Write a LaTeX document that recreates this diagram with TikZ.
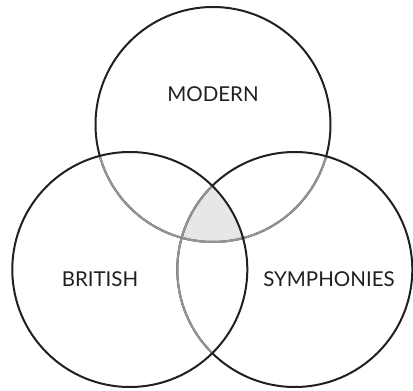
\documentclass[tikz,border=0pt]{standalone}
\usepackage{fontspec}
\setmainfont{Lato}
\definecolor{ringgray}{HTML}{939598}
\definecolor{corefill}{HTML}{E6E7E8}
\definecolor{ink}{HTML}{231F20}
\begin{document}
\begin{tikzpicture}[x=1pt,y=-1pt,
  ring/.style={line width=2pt,draw=ink},
  innerring/.style={line width=2pt,draw=ringgray},
  lab/.style={font=\fontsize{20.5}{24}\selectfont,text=ink,inner sep=0pt}]
\useasboundingbox (0,0) rectangle (413,391);
\def\R{117.5}
\coordinate (cm) at (213,124.5);
\coordinate (cb) at (129.8,269.5);
\coordinate (cs) at (294.8,269.5);
% triple intersection
\begin{scope}
  \clip (cm) circle (\R);
  \clip (cb) circle (\R);
  \fill[corefill] (cs) circle (\R);
\end{scope}
% top circle
\draw[ring] (cm) circle (\R);
\begin{scope}
  \clip (cb) circle (\R);
  \draw[innerring] (cm) circle (\R);
\end{scope}
\begin{scope}
  \clip (cs) circle (\R);
  \draw[innerring] (cm) circle (\R);
\end{scope}
% right circle
\draw[ring] (cs) circle (\R);
\begin{scope}
  \clip (cb) circle (\R);
  \draw[innerring] (cs) circle (\R);
\end{scope}
% left circle
\draw[ring] (cb) circle (\R);
\node[lab] (modern) at (213,94) {MODERN};
\node[lab] (british) at (100,279.5) {BRITISH};
\node[lab] (symph) at (329,279.5) {SYMPHONIES};
\end{tikzpicture}
\end{document}
